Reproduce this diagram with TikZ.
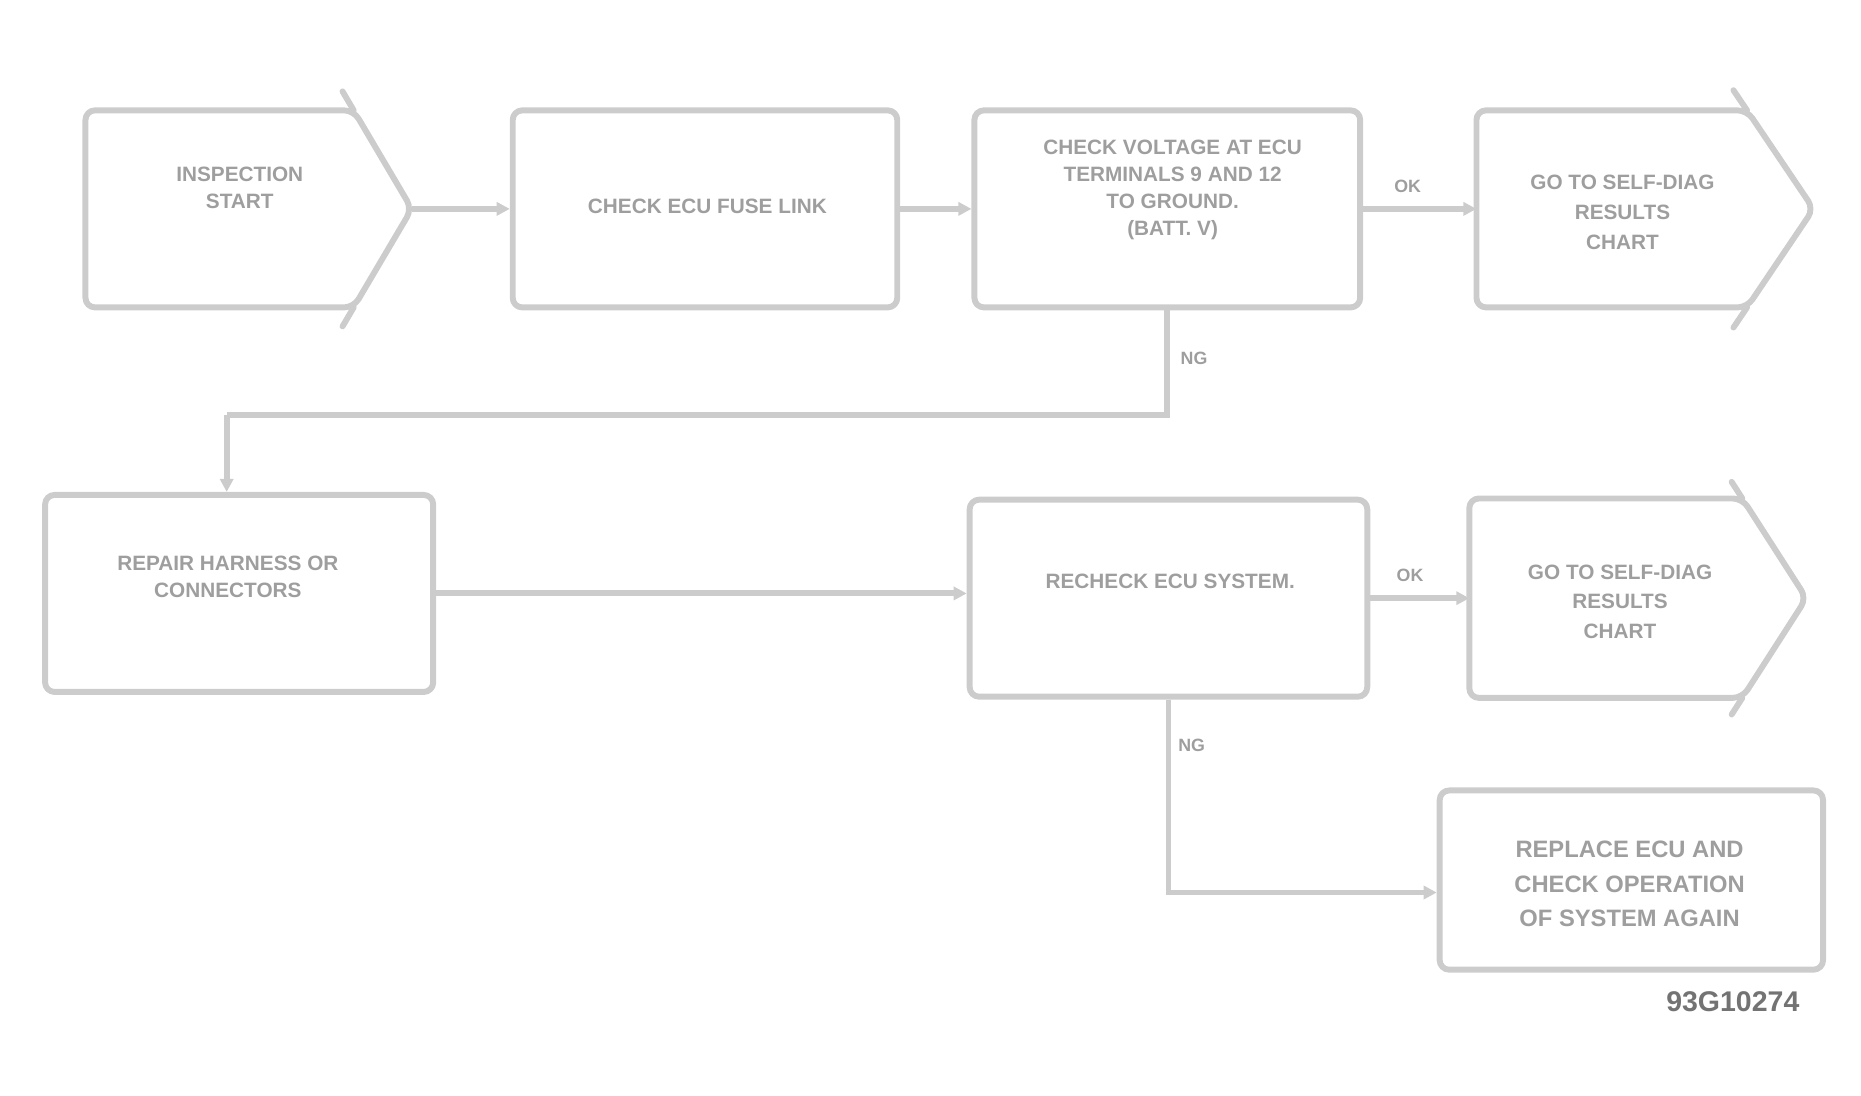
\documentclass[tikz,border=0pt]{standalone}
\usepackage{fontspec}
\setmainfont{Liberation Sans}
\usetikzlibrary{arrows.meta}
\definecolor{boxline}{gray}{0.80}
\definecolor{boxtext}{gray}{0.62}
\definecolor{codetext}{gray}{0.45}
\tikzset{
  frame/.style={draw=boxline, line width=5pt, rounded corners=8pt, line join=round},
  rbox/.style={frame, rectangle, inner sep=0pt},
  txt/.style={text=boxtext, font=\fontsize{17.5}{25}\selectfont\bfseries, align=center, inner sep=0pt},
  dtxt/.style={text=boxtext, font=\fontsize{17.5}{23}\selectfont\bfseries, align=center, inner sep=0pt},
  bigtxt/.style={text=boxtext, font=\fontsize{20}{29}\selectfont\bfseries, align=center, inner sep=0pt},
  lbl/.style={text=boxtext, font=\fontsize{15}{17}\selectfont\bfseries, inner sep=1pt},
  conn/.style={draw=boxline, line width=5pt, -{Triangle[length=11pt,width=11pt]}},
  plain/.style={draw=boxline, line width=5pt},
}
\begin{document}
\begin{tikzpicture}[x=1pt,y=-1pt]
\useasboundingbox (0,0) rectangle (1568,923);

% ---- pentagon 1
\coordinate (p1tip) at (347,176);
\draw[frame] (298,93) -- (72,93) -- (72,259) -- (298,259) -- (p1tip) -- cycle;
\draw[plain, line cap=round] (298,93) -- (288.6,77);
\draw[plain, line cap=round] (298,259) -- (288.6,275);
\node[dtxt] (t1) at (202,158) {INSPECTION\\START};

% ---- box 2
\node[rbox, minimum width=324pt, minimum height=166pt] (b2) at (594,176) {};
\node[txt] (t2) at (596,174) {CHECK ECU FUSE LINK};

% ---- box 3
\node[rbox, minimum width=325pt, minimum height=166pt] (b3) at (983.5,176) {};
\node[dtxt] (t3) at (988,160) {CHECK VOLTAGE AT ECU\\TERMINALS 9 AND 12\\TO GROUND.\\(BATT. V)};

% ---- pentagon 4
\coordinate (p4left) at (1244,176);
\coordinate (p4tip) at (1528,176);
\draw[frame] (1472,93) -- (1244,93) -- (1244,259) -- (1472,259) -- (p4tip) -- cycle;
\draw[plain, line cap=round] (1472,93) -- (1460.5,76);
\draw[plain, line cap=round] (1472,259) -- (1460.5,276);
\node[txt] (t4) at (1367,179) {GO TO SELF-DIAG\\RESULTS\\CHART};

% ---- box 5
\node[rbox, minimum width=327pt, minimum height=166pt] (b5) at (201.5,500) {};
\node[dtxt] (t5) at (192,486) {REPAIR HARNESS OR\\CONNECTORS};

% ---- box 6
\node[rbox, minimum width=335pt, minimum height=166pt] (b6) at (984.5,504) {};
\node[txt] (t6) at (986,490) {RECHECK ECU SYSTEM.};

% ---- pentagon 7
\coordinate (p7left) at (1238,504);
\coordinate (p7tip) at (1522,504);
\draw[frame] (1468,420) -- (1238,420) -- (1238,588) -- (1468,588) -- (p7tip) -- cycle;
\draw[plain, line cap=round] (1468,420) -- (1459,406);
\draw[plain, line cap=round] (1468,588) -- (1459,602);
\node[txt] (t7) at (1365,507) {GO TO SELF-DIAG\\RESULTS\\CHART};

% ---- box 8
\node[rbox, minimum width=323pt, minimum height=151pt] (b8) at (1374.5,741.5) {};
\node[bigtxt] (t8) at (1373,745) {REPLACE ECU AND\\CHECK OPERATION\\OF SYSTEM AGAIN};

% ---- figure code
\node[text=codetext, font=\fontsize{24}{26}\selectfont\bfseries, inner sep=0pt] (code) at (1460,844) {93G10274};

% ---- connectors
\draw[conn] (p1tip) -- (b2.west);
\draw[conn] (b2.east) -- (b3.west);
\draw[conn] (b3.east) -- (p4left);
\node[lbl] (ok1) at (1186,157) {OK};

\coordinate (j1) at (983.5,350);
\coordinate (j2) at (191,350);
\draw[plain] (b3.south) -- (j1) -- (j2);
\draw[conn] (j2) -- (j2 |- b5.north);
\node[lbl] (ng1) at (1006,302) {NG};

\draw[conn] (b5.east) -- (b5.east -| b6.west);
\draw[conn] (b6.east) -- (p7left);
\node[lbl] (ok2) at (1188,485) {OK};

\coordinate (j3) at (984.5,752);
\draw[conn] (b6.south) -- (j3) -- (j3 -| b8.west);
\node[lbl] (ng2) at (1004,628) {NG};
\end{tikzpicture}
\end{document}
